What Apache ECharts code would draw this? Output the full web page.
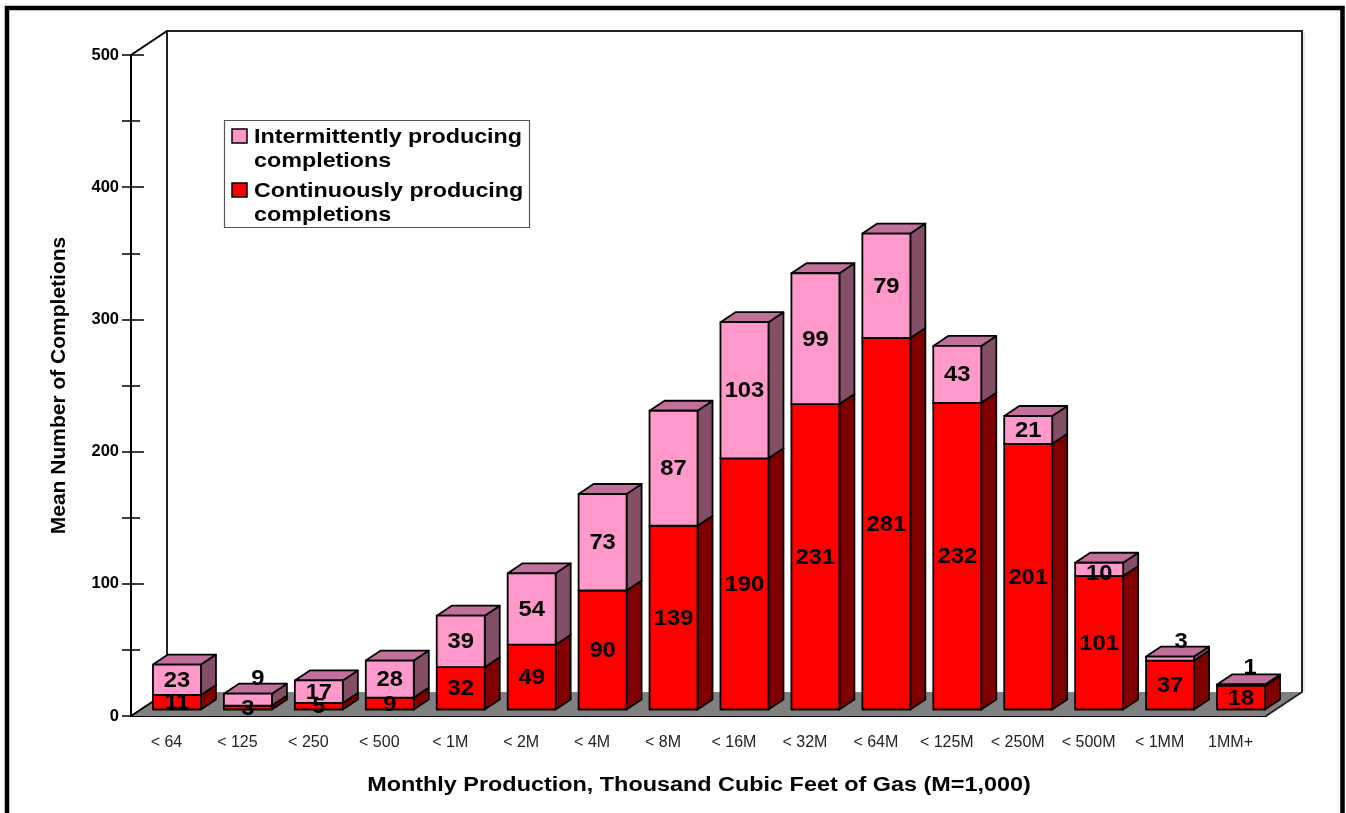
<!DOCTYPE html>
<html>
<head>
<meta charset="utf-8">
<title>Mean Number of Completions</title>
<style>
  html, body { margin: 0; padding: 0; background: #fff; overflow: hidden; }
  #chart { width: 1346px; height: 813px; }
</style>
<script src="https://cdn.jsdelivr.net/npm/echarts@6/dist/echarts.min.js"></script>
</head>
<body>
<div id="chart"></div>
<script>
const categories = ['< 64', '< 125', '< 250', '< 500', '< 1M', '< 2M', '< 4M', '< 8M', '< 16M', '< 32M', '< 64M', '< 125M', '< 250M', '< 500M', '< 1MM', '1MM+'];
const continuous = [11, 3, 5, 9, 32, 49, 90, 139, 190, 231, 281, 232, 201, 101, 37, 18];
const intermittent = [23, 9, 17, 28, 39, 54, 73, 87, 103, 99, 79, 43, 21, 10, 3, 1];
const legendLines = [['Intermittently producing', 'completions'], ['Continuously producing', 'completions']];
const xTitle = 'Monthly Production, Thousand Cubic Feet of Gas (M=1,000)';
const yTitle = 'Mean Number of Completions';

const font = '"Liberation Sans", Arial, sans-serif';
const chart = echarts.init(document.getElementById('chart'));

// fake 3D, all in pixels
const wall = [36, -24]; // floor depth
const seat = [10.5, -6.5]; // where a bar stands on the floor
const depth = [15, -10]; // bar depth
const barWidth = 48;

const pink = { front: '#ff99cc', top: '#c0709a', side: '#844f66' };
const red = { front: '#ff0000', top: '#c0709a', side: '#800000' };

// labels that were moved off their segment in the original
const contShift = {};
const interShift = { 1: [10, -22], 13: [0, 4], 14: [11, -18], 15: [9, -18] };

const stroke = { stroke: '#000', lineWidth: 1.8, lineJoin: 'round' };

function poly(points, fill) {
  return { type: 'polygon', shape: { points }, style: { ...stroke, fill } };
}

function renderStage(params, api) {
  const band = api.size([1, 0])[0];
  const a = api.coord([0, 0]);
  const b = api.coord([categories.length - 1, 0]);
  const t = api.coord([0, 500]);
  const left = a[0] - band / 2;
  const right = b[0] + band / 2;
  const y0 = a[1];
  const backY = y0 + wall[1];
  const topY = t[1] + wall[1];
  return {
    type: 'group',
    children: [
      {
        type: 'polygon',
        shape: { points: [[left, y0], [right, y0], [right + wall[0], backY], [left + wall[0], backY]] },
        style: { fill: '#808080' },
      },
      {
        type: 'polyline',
        shape: { points: [[right, y0], [right + wall[0], backY], [right + wall[0], topY], [left + wall[0], topY], [left + wall[0], backY]] },
        style: { stroke: '#222', lineWidth: 2, fill: 'none' },
      },
      { type: 'line', shape: { x1: left, y1: y0, x2: left + wall[0], y2: backY }, style: { stroke: '#000', lineWidth: 2 } },
      { type: 'line', shape: { x1: left, y1: t[1], x2: left + wall[0], y2: topY }, style: { stroke: '#000', lineWidth: 2 } },
      { type: 'line', shape: { x1: right + wall[0] + 2, y1: topY + 2, x2: right + wall[0] + 2, y2: backY }, style: { stroke: '#ccc', lineWidth: 1 } },
    ],
  };
}

function barRenderer(colors) {
  return function (params, api) {
    const i = api.value(0);
    const base = api.value(1);
    const top = base + api.value(2);
    const x = api.coord([i, 0])[0] - barWidth / 2 + seat[0];
    const x2 = x + barWidth;
    const y1 = api.coord([i, base])[1] + seat[1];
    const y2 = api.coord([i, top])[1] + seat[1];
    const dx = depth[0];
    const dy = depth[1];
    return {
      type: 'group',
      children: [
        poly([[x2, y1], [x2 + dx, y1 + dy], [x2 + dx, y2 + dy], [x2, y2]], colors.side),
        poly([[x, y2], [x2, y2], [x2 + dx, y2 + dy], [x + dx, y2 + dy]], colors.top),
        poly([[x, y1], [x2, y1], [x2, y2], [x, y2]], colors.front),
      ],
    };
  };
}

function labelRenderer(shifts) {
  return function (params, api) {
    const i = api.value(0);
    const base = api.value(1);
    const v = api.value(2);
    const p = api.coord([i, base + v / 2]);
    const s = shifts[i] || [0, 0];
    return {
      type: 'text',
      x: p[0] + seat[0] + s[0],
      y: p[1] + seat[1] + s[1] + 1,
      scaleX: 1.08,
      style: {
        text: String(v),
        fill: '#000',
        font: 'bold 22px ' + font,
        align: 'center',
        verticalAlign: 'middle',
      },
    };
  };
}

const contData = continuous.map((v, i) => [i, 0, v]);
const interData = intermittent.map((v, i) => [i, continuous[i], v]);

function legendGraphic() {
  const rows = [[137, 161], [191, 215]];
  const swatches = [[129, '#ff99cc'], [183, '#ff0000']];
  const children = [{
    type: 'rect',
    shape: { x: 224.5, y: 120.5, width: 305, height: 107 },
    style: { fill: '#fff', stroke: '#555', lineWidth: 1.2 },
  }];
  legendLines.forEach((lines, n) => {
    children.push({
      type: 'rect',
      shape: { x: 232, y: swatches[n][0], width: 15, height: 14 },
      style: { fill: swatches[n][1], stroke: '#000', lineWidth: 1.5 },
    });
    lines.forEach((line, k) => {
      children.push({
        type: 'text',
        x: 254,
        y: rows[n][k],
        scaleX: 1.11,
        style: { text: line, fill: '#000', font: 'bold 21px ' + font, verticalAlign: 'middle' },
      });
    });
  });
  return { type: 'group', z: 50, children };
}

const option = {
  animation: false,
  backgroundColor: '#fff',
  grid: { left: 131, top: 55, width: 1135, height: 661 },
  xAxis: {
    type: 'category',
    data: categories,
    axisLine: { lineStyle: { color: '#000', width: 2 } },
    axisTick: { length: 12, lineStyle: { color: '#666', width: 1.5 } },
    axisLabel: { fontFamily: font, fontSize: 16, color: '#222', margin: 19, interval: 0 },
  },
  yAxis: [
    {
      type: 'value',
      position: 'left',
      min: 0,
      max: 500,
      interval: 100,
      name: yTitle,
      nameLocation: 'middle',
      nameGap: 61,
      nameTextStyle: { fontFamily: font, fontWeight: 'bold', fontSize: 21, color: '#000' },
      splitLine: { show: false },
      axisLine: { show: true, lineStyle: { color: '#000', width: 2 } },
      axisTick: { show: true, length: 9, lineStyle: { color: '#000', width: 1.5 } },
      minorTick: { show: true, splitNumber: 2, length: 9, lineStyle: { color: '#000', width: 1.5 } },
      minorSplitLine: { show: false },
      axisLabel: { fontFamily: font, fontWeight: 'bold', fontSize: 16.5, color: '#000', margin: 12 },
    },
    {
      type: 'value',
      position: 'left',
      min: 0,
      max: 500,
      interval: 100,
      splitLine: { show: false },
      axisLine: { show: false },
      axisLabel: { show: false },
      axisTick: { show: true, inside: true, length: 13, lineStyle: { color: '#000', width: 1.5 } },
      minorTick: { show: true, splitNumber: 2, length: 9, lineStyle: { color: '#000', width: 1.5 } },
    },
  ],
  series: [
    { type: 'custom', name: 'stage', z: 1, clip: false, renderItem: renderStage, data: [[0, 0, 0]], silent: true },
    { type: 'custom', name: 'Continuously producing completions', z: 3, clip: false, renderItem: barRenderer(red), data: contData },
    { type: 'custom', name: 'Intermittently producing completions', z: 4, clip: false, renderItem: barRenderer(pink), data: interData },
    { type: 'custom', name: 'continuous labels', z: 5, clip: false, renderItem: labelRenderer(contShift), data: contData },
    { type: 'custom', name: 'intermittent labels', z: 5, clip: false, renderItem: labelRenderer(interShift), data: interData },
  ],
  graphic: [
    {
      type: 'rect',
      z: 60,
      shape: { x: 7, y: 8, width: 1335.5, height: 900 },
      style: { fill: 'none', stroke: '#000', lineWidth: 4.5 },
    },
    legendGraphic(),
    {
      type: 'text',
      z: 50,
      x: 699,
      y: 785,
      scaleX: 1.17,
      style: { text: xTitle, fill: '#000', font: 'bold 20px ' + font, align: 'center', verticalAlign: 'middle' },
    },
  ],
};

chart.setOption(option);
</script>
</body>
</html>
